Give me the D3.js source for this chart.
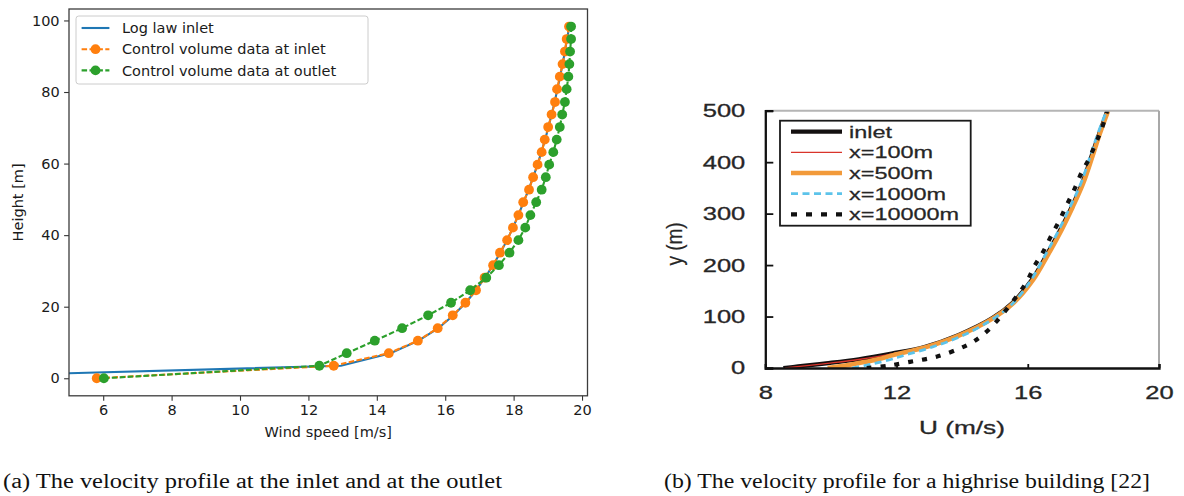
<!DOCTYPE html>
<html>
<head>
<meta charset="utf-8">
<script src="https://cdn.jsdelivr.net/npm/d3@7"></script>
<style>
  body { margin: 0; background: #fff; }
  svg { display: block; }
</style>
</head>
<body>
<div id="chart"></div>
<script>
// ---- (a) velocity profile at inlet and outlet ----
const heights = [0, 3.5, 7.0, 10.5, 14.0, 17.6, 21.1, 24.6, 28.1, 31.6, 35.1, 38.6, 42.1, 45.6, 49.2,
  52.7, 56.2, 59.7, 63.2, 66.7, 70.2, 73.7, 77.2, 80.8, 84.3, 87.8, 91.3, 94.8, 98.3];
const inletSpeed = [5.81, 12.74, 14.35, 15.20, 15.78, 16.22, 16.59, 16.90, 17.15, 17.40, 17.60, 17.81, 17.98, 18.14, 18.28,
  18.45, 18.57, 18.70, 18.82, 18.91, 19.01, 19.11, 19.21, 19.27, 19.35, 19.43, 19.50, 19.55, 19.62];
const outletSpeed = [6.02, 12.32, 13.12, 13.94, 14.74, 15.50, 16.17, 16.73, 17.20, 17.57, 17.88, 18.14, 18.34, 18.49, 18.66,
  18.82, 18.94, 19.04, 19.16, 19.26, 19.35, 19.42, 19.50, 19.55, 19.60, 19.63, 19.65, 19.68, 19.68];
const logLawHeights = [0.08, 3.5, 7.0, 10.5, 14.0, 17.6, 21.1, 24.6, 28.1, 31.6, 35.1, 38.6, 42.1, 45.6, 49.2,
  52.7, 56.2, 59.7, 63.2, 66.7, 70.2, 73.7, 77.2, 80.8, 84.3, 87.8, 91.3, 94.8, 98.3];
const logLawSpeed = [0, 12.95, 14.40, 15.22, 15.80, 16.24, 16.60, 16.90, 17.16, 17.40, 17.61, 17.81, 17.98, 18.14, 18.29,
  18.44, 18.57, 18.70, 18.81, 18.92, 19.02, 19.11, 19.20, 19.28, 19.36, 19.43, 19.50, 19.56, 19.63];
const legendA = ["Log law inlet", "Control volume data at inlet", "Control volume data at outlet"];
const xTicksA = [6, 8, 10, 12, 14, 16, 18, 20];
const yTicksA = [0, 20, 40, 60, 80, 100];

// ---- (b) highrise building profile ----
const profileLabels = ["inlet", "x=100m", "x=500m", "x=1000m", "x=10000m"];
const inletHeights = [0, 3, 9, 17, 28, 41, 64, 97, 126, 171, 225, 256, 313, 359, 417, 456, 500];
const uInlet = [8.55, 9.0, 9.85, 10.85, 11.85, 12.85, 13.88, 14.92, 15.52, 16.12, 16.62, 16.89, 17.34, 17.66, 17.97, 18.18, 18.43];
const u100 = [8.6, 9.05, 9.9, 10.9, 11.9, 12.88, 13.9, 14.94, 15.54, 16.14, 16.64, 16.91, 17.36, 17.68, 17.99, 18.2, 18.45];
const downstreamHeights = [0, 5, 10, 17, 25, 41, 64, 97, 126, 171, 225, 256, 313, 359, 417, 456, 500];
const u500 = [9.9, 10.45, 10.9, 11.45, 11.9, 12.92, 13.93, 14.95, 15.56, 16.16, 16.66, 16.93, 17.37, 17.69, 18.0, 18.2, 18.45];
const u1000 = [10.65, 11.05, 11.4, 11.85, 12.25, 13.1, 14.05, 14.98, 15.55, 16.1, 16.58, 16.85, 17.29, 17.62, 17.93, 18.14, 18.4];
const far10000Heights = [0, 4, 12, 22, 38, 51, 77, 135, 168, 200, 226, 255, 286, 317, 347, 377, 407, 438, 464, 500];
const u10000 = [11.09, 11.7, 12.41, 13.22, 13.93, 14.34, 14.85, 15.61, 15.97, 16.22, 16.47, 16.70, 16.96, 17.19, 17.42, 17.62, 17.87, 18.08, 18.25, 18.42];
const xTicksB = [8, 12, 16, 20];
const yTicksB = [0, 100, 200, 300, 400, 500];

const captionA = "(a) The velocity profile at the inlet and at the outlet";
const captionB = "(b) The velocity profile for a highrise building [22]";

const W = 1184, H = 496;
const svg = d3.select("#chart").append("svg").attr("width", W).attr("height", H);
svg.append("rect").attr("width", W).attr("height", H).attr("fill", "#fff");

// ================= panel (a) =================
const A = { left: 69, right: 587.5, top: 9, bottom: 395.8 };
const xA = d3.scaleLinear().domain([5, 20.16]).range([A.left, A.right]);
const yA = d3.scaleLinear().domain([-4.9, 103.2]).range([A.bottom, A.top]);
const fontA = "'DejaVu Sans', sans-serif";
const fsA = 14.5;

svg.append("clipPath").attr("id", "clipA").append("rect")
  .attr("x", A.left).attr("y", A.top).attr("width", A.right - A.left).attr("height", A.bottom - A.top);

const gA = svg.append("g");
const plotA = gA.append("g").attr("clip-path", "url(#clipA)");

const lineA = (xs, ys) => d3.line().x((d, i) => xA(xs[i])).y((d, i) => yA(ys[i]))(xs);

plotA.append("path").attr("d", lineA(logLawSpeed, logLawHeights))
  .attr("fill", "none").attr("stroke", "#1f77b4").attr("stroke-width", 2.1);

const seriesA = [
  { speed: inletSpeed, color: "#ff7f0e" },
  { speed: outletSpeed, color: "#2ca02c" }
];
seriesA.forEach(s => {
  plotA.append("path").attr("d", lineA(s.speed, heights))
    .attr("fill", "none").attr("stroke", s.color).attr("stroke-width", 2.1)
    .attr("stroke-dasharray", "5.5,2.4");
  plotA.append("g").selectAll("circle").data(heights).join("circle")
    .attr("cx", (d, i) => xA(s.speed[i])).attr("cy", d => yA(d))
    .attr("r", 4.9).attr("fill", s.color);
});

// axes
const xAxisA = gA.append("g").attr("transform", `translate(0,${A.bottom})`)
  .call(d3.axisBottom(xA).tickValues(xTicksA).tickSize(4.9).tickPadding(4.5));
const yAxisA = gA.append("g").attr("transform", `translate(${A.left},0)`)
  .call(d3.axisLeft(yA).tickValues(yTicksA).tickSize(4.9).tickPadding(4.5));
[xAxisA, yAxisA].forEach(ax => {
  ax.select(".domain").remove();
  ax.selectAll("line").attr("stroke", "#333").attr("stroke-width", 1.1);
  ax.selectAll("text").attr("font-family", fontA).attr("font-size", fsA).attr("fill", "#1a1a1a");
});
gA.append("rect").attr("x", A.left).attr("y", A.top)
  .attr("width", A.right - A.left).attr("height", A.bottom - A.top)
  .attr("fill", "none").attr("stroke", "#3c3c3c").attr("stroke-width", 1.3);

gA.append("text").attr("x", (A.left + A.right) / 2).attr("y", 437)
  .attr("text-anchor", "middle").attr("font-family", fontA).attr("font-size", fsA).attr("fill", "#1a1a1a")
  .text("Wind speed [m/s]");
gA.append("text").attr("transform", `translate(23,${(A.top + A.bottom) / 2}) rotate(-90)`)
  .attr("text-anchor", "middle").attr("font-family", fontA).attr("font-size", fsA).attr("fill", "#1a1a1a")
  .text("Height [m]");

// legend (a)
const legA = gA.append("g").attr("transform", "translate(76,16)");
legA.append("rect").attr("width", 292).attr("height", 68).attr("rx", 2.8)
  .attr("fill", "#fff").attr("fill-opacity", 0.8).attr("stroke", "#cccccc").attr("stroke-width", 1);
const legStyles = [
  { color: "#1f77b4", dash: null, marker: false },
  { color: "#ff7f0e", dash: "5.5,2.4", marker: true },
  { color: "#2ca02c", dash: "5.5,2.4", marker: true }
];
legendA.forEach((name, i) => {
  const cy = 12 + i * 21.2;
  const st = legStyles[i];
  legA.append("line").attr("x1", 5.6).attr("x2", 33.4).attr("y1", cy).attr("y2", cy)
    .attr("stroke", st.color).attr("stroke-width", 2.1).attr("stroke-dasharray", st.dash);
  if (st.marker) legA.append("circle").attr("cx", 19.5).attr("cy", cy).attr("r", 4.9).attr("fill", st.color);
  legA.append("text").attr("x", 46).attr("y", cy).attr("dy", "0.36em")
    .attr("font-family", fontA).attr("font-size", fsA).attr("fill", "#1a1a1a").text(name);
});

// ================= panel (b) =================
const B = { left: 765.3, right: 1159, top: 110.7, bottom: 368 };
const xB = d3.scaleLinear().domain([8, 20]).range([B.left, B.right]);
const yB = d3.scaleLinear().domain([0, 500]).range([B.bottom, B.top]);
const fontB = "'Liberation Sans', Arial, sans-serif";
const stretch = 1.38;
const inkB = "#262626";

svg.append("clipPath").attr("id", "clipB").append("rect")
  .attr("x", B.left).attr("y", B.top).attr("width", B.right - B.left).attr("height", B.bottom - B.top);

const gB = svg.append("g");
const plotB = gB.append("g").attr("clip-path", "url(#clipB)");
const lineB = (us, ys) => d3.line().curve(d3.curveCatmullRom.alpha(0.5))
  .x((d, i) => xB(us[i])).y((d, i) => yB(ys[i]))(us);

const seriesB = [
  { u: uInlet, y: inletHeights, color: "#141010", width: 4.2, dash: null },
  { u: u100, y: inletHeights, color: "#d9342b", width: 1.3, dash: null },
  { u: u500, y: downstreamHeights, color: "#f29a3a", width: 4.6, dash: null },
  { u: u1000, y: downstreamHeights, color: "#5cc3ea", width: 2.8, dash: "7,4.5" },
  { u: u10000, y: far10000Heights, color: "#111", width: 4.2, dash: "5,9" }
];
seriesB.forEach(s => {
  plotB.append("path").attr("d", lineB(s.u, s.y)).attr("fill", "none")
    .attr("stroke", s.color).attr("stroke-width", s.width).attr("stroke-dasharray", s.dash);
});

// spines
gB.append("line").attr("x1", B.left).attr("x2", B.right).attr("y1", B.top).attr("y2", B.top)
  .attr("stroke", "#b5b5b5").attr("stroke-width", 2);
gB.append("line").attr("x1", B.right).attr("x2", B.right).attr("y1", B.top).attr("y2", B.bottom)
  .attr("stroke", "#a8a8a8").attr("stroke-width", 2);

const yAxisB = gB.append("g").attr("transform", `translate(${B.left},0)`)
  .call(d3.axisLeft(yB).tickValues(yTicksB).tickSize(-8).tickPadding(0));
yAxisB.selectAll("text").attr("x", 0)
  .attr("transform", `translate(-20,0) scale(${stretch},1)`);
const xAxisB = gB.append("g").attr("transform", `translate(0,${B.bottom})`)
  .call(d3.axisBottom(xB).tickValues(xTicksB).tickSize(-4).tickPadding(0));
xAxisB.selectAll("text").attr("y", 0).attr("dy", "0.35em")
  .attr("transform", `translate(0,25) scale(${stretch},1)`);
[xAxisB, yAxisB].forEach(ax => {
  ax.select(".domain").attr("stroke", "#111").attr("stroke-width", 2.3);
  ax.selectAll("line").attr("stroke", "#111").attr("stroke-width", 1.8);
  ax.selectAll("text").attr("font-family", fontB).attr("font-size", 18.5)
    .attr("fill", inkB).attr("stroke", inkB).attr("stroke-width", 0.3);
});

gB.append("text").attr("transform", `translate(962,427) scale(${stretch},1)`).attr("dy", "0.35em")
  .attr("text-anchor", "middle").attr("font-family", fontB).attr("font-size", 19)
  .attr("fill", inkB).attr("stroke", inkB).attr("stroke-width", 0.3).text("U (m/s)");
gB.append("text").attr("transform", "translate(674,244) rotate(-90) scale(1,1.15)").attr("dy", "0.35em")
  .attr("text-anchor", "middle").attr("font-family", fontB).attr("font-size", 19)
  .attr("fill", inkB).attr("stroke", inkB).attr("stroke-width", 0.2).text("y (m)");

// legend (b)
const legB = gB.append("g").attr("transform", "translate(780,120.7)");
legB.append("rect").attr("width", 190.7).attr("height", 105)
  .attr("fill", "#fff").attr("stroke", "#1a1a1a").attr("stroke-width", 1.8);
profileLabels.forEach((name, i) => {
  const cy = 11 + i * 20.65;
  const s = seriesB[i];
  legB.append("line").attr("x1", 11).attr("x2", 62).attr("y1", cy).attr("y2", cy)
    .attr("stroke", s.color).attr("stroke-width", s.width)
    .attr("stroke-dasharray", i === 4 ? "6,9" : s.dash);
  legB.append("text").attr("transform", `translate(69,${cy}) scale(${stretch},1)`).attr("dy", "0.36em")
    .attr("font-family", fontB).attr("font-size", 17)
    .attr("fill", inkB).attr("stroke", inkB).attr("stroke-width", 0.25).text(name);
});

// ================= captions =================
const fontCap = "'Liberation Serif', 'DejaVu Serif', serif";
svg.append("text").attr("x", 3).attr("y", 488).attr("font-family", fontCap).attr("font-size", 20.5)
  .attr("fill", "#111").attr("textLength", 499).attr("lengthAdjust", "spacingAndGlyphs").text(captionA);
svg.append("text").attr("x", 664).attr("y", 488).attr("font-family", fontCap).attr("font-size", 20.5)
  .attr("fill", "#111").attr("textLength", 486).attr("lengthAdjust", "spacingAndGlyphs").text(captionB);
</script>
</body>
</html>
